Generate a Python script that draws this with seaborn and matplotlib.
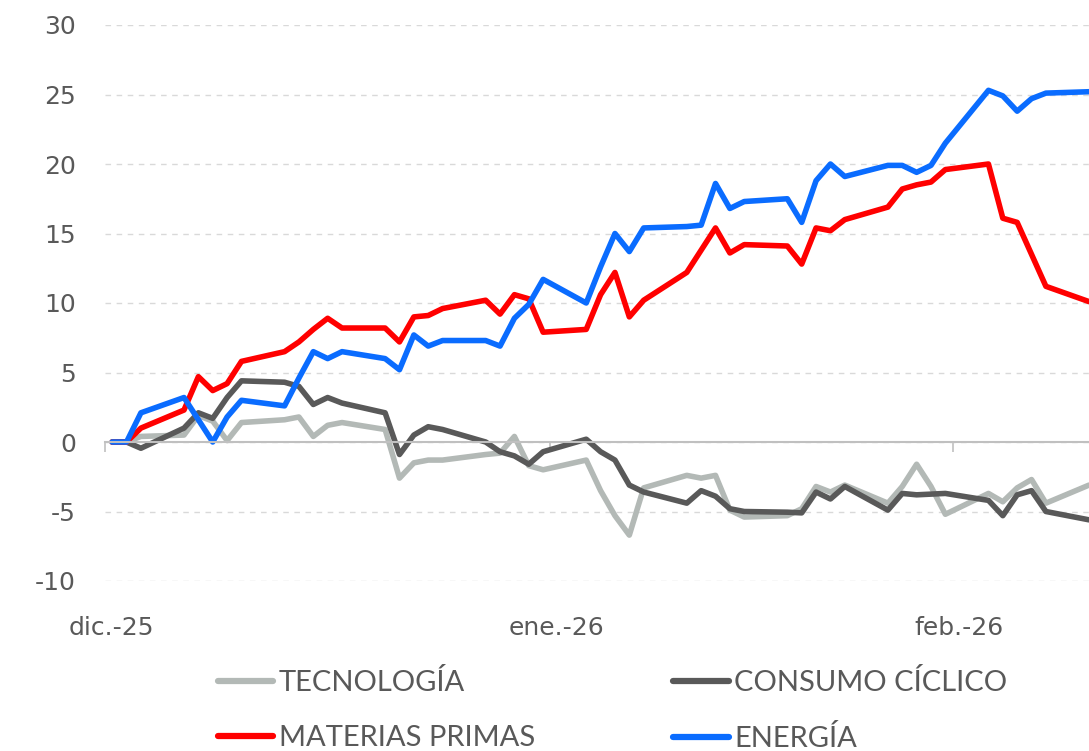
import matplotlib
matplotlib.use("Agg")
import matplotlib.pyplot as plt
import matplotlib.transforms as mtransforms
import pandas as pd
import seaborn as sns

# business days shown on the chart (Wed 3-dic-2025 .. Mon 9-feb-2026)
fechas = pd.bdate_range("2025-12-03", "2026-02-09")

tecnologia = [
    0.0, 0.0, 0.4,
    0.5, 1.9, 1.5, 0.1, 1.4,
    1.6, 1.8, 0.4, 1.2, 1.4,
    0.9, -2.6, -1.5, -1.3, -1.3,
    -0.9, -0.8, 0.4, -1.7, -2.0,
    -1.3, -3.5, -5.3, -6.7, -3.3,
    -2.4, -2.6, -2.4, -4.9, -5.4,
    -5.3, -4.8, -3.2, -3.6, -3.1,
    -4.4, -3.2, -1.6, -3.2, -5.2,
    -3.7, -4.3, -3.3, -2.7, -4.4,
    -3.1,
]
consumo_ciclico = [
    0.0, 0.0, -0.45,
    1.0, 2.1, 1.7, 3.2, 4.4,
    4.3, 4.0, 2.7, 3.2, 2.8,
    2.1, -0.9, 0.5, 1.1, 0.9,
    0.0, -0.7, -1.0, -1.6, -0.7,
    0.2, -0.7, -1.3, -3.1, -3.6,
    -4.4, -3.5, -3.9, -4.8, -5.0,
    -5.05, -5.1, -3.6, -4.1, -3.2,
    -4.9, -3.7, -3.8, -3.75, -3.7,
    -4.2, -5.3, -3.8, -3.5, -5.0,
    -5.6,
]
materias_primas = [
    0.0, 0.0, 1.0,
    2.3, 4.7, 3.7, 4.2, 5.8,
    6.5, 7.2, 8.1, 8.9, 8.2,
    8.2, 7.2, 9.0, 9.1, 9.6,
    10.2, 9.2, 10.6, 10.3, 7.9,
    8.1, 10.6, 12.2, 9.0, 10.2,
    12.2, 13.8, 15.4, 13.6, 14.2,
    14.1, 12.8, 15.4, 15.2, 16.0,
    16.9, 18.2, 18.5, 18.7, 19.6,
    20.0, 16.1, 15.8, 13.5, 11.2,
    10.1,
]
energia = [
    0.0, 0.0, 2.1,
    3.2, 1.6, 0.0, 1.8, 3.0,
    2.6, 4.6, 6.5, 6.0, 6.5,
    6.0, 5.2, 7.7, 6.9, 7.3,
    7.3, 6.9, 8.9, 9.9, 11.7,
    10.0, 12.6, 15.0, 13.7, 15.4,
    15.5, 15.6, 18.6, 16.8, 17.3,
    17.5, 15.8, 18.8, 20.0, 19.1,
    19.9, 19.9, 19.4, 19.9, 21.5,
    25.3, 24.9, 23.8, 24.7, 25.1,
    25.2,
]

SERIES = {
    "TECNOLOGÍA": tecnologia,
    "CONSUMO CÍCLICO": consumo_ciclico,
    "MATERIAS PRIMAS": materias_primas,
    "ENERGÍA": energia,
}
COLORES = {
    "TECNOLOGÍA": "#b3b9b6",
    "CONSUMO CÍCLICO": "#595959",
    "MATERIAS PRIMAS": "#ff0000",
    "ENERGÍA": "#0a6cff",
}

tick_fechas = pd.to_datetime(["2025-12-02 12:00", "2026-01-02 12:00", "2026-01-30 12:00"])
tick_labels = ["dic.-25", "ene.-26", "feb.-26"]

TEXT = "#595959"

df = pd.concat(
    [pd.DataFrame({"fecha": fechas, "valor": v, "sector": k}) for k, v in SERIES.items()],
    ignore_index=True,
)

sns.set_theme(style="white")
plt.rcParams["font.family"] = ["Lato", "DejaVu Sans"]
plt.rcParams["axes.unicode_minus"] = False

fig = plt.figure(figsize=(10.89, 7.51), dpi=100)
ax = fig.add_axes([105 / 1089, 1 - 581 / 751, 1 - 105 / 1089, (581 - 25) / 751])

sns.lineplot(data=df, x="fecha", y="valor", hue="sector", palette=COLORES,
             linewidth=4, ax=ax, legend=True)

ax.set_ylim(-10, 30)
ax.set_xlim(fechas[0] - pd.Timedelta(hours=12), fechas[-1])
ax.set_yticks(range(-10, 31, 5))
ax.yaxis.grid(True, color="#d9d9d9", linestyle=(0, (4, 4)), linewidth=1)
ax.xaxis.grid(False)

for s in ("top", "right", "left"):
    ax.spines[s].set_visible(False)
ax.spines["bottom"].set_position(("data", 0))
ax.spines["bottom"].set_color("#c0c0c0")
ax.spines["bottom"].set_linewidth(1.5)
ax.set_axisbelow(True)

ax.set_xticks(tick_fechas)
ax.set_xticklabels(tick_labels, family="DejaVu Sans")
ax.tick_params(axis="x", bottom=True, direction="out", length=7, width=1.2,
               color="#c0c0c0", pad=118, labelsize=18, labelcolor=TEXT)
ax.tick_params(axis="y", left=False, length=0, pad=21, labelsize=18, labelcolor=TEXT)
for lbl in ax.get_yticklabels():
    lbl.set_family("DejaVu Sans")
shift = mtransforms.ScaledTranslation(6 / 100, 0, fig.dpi_scale_trans)
for lbl in ax.get_xticklabels():
    lbl.set_transform(lbl.get_transform() + shift)
ax.set_xlabel("")
ax.set_ylabel("")

# legend under the chart, two columns
handles, labels = ax.get_legend_handles_labels()
ax.get_legend().remove()
for h in handles:
    h.set_linewidth(4.5)
orden = ["TECNOLOGÍA", "MATERIAS PRIMAS", "CONSUMO CÍCLICO", "ENERGÍA"]
hmap = dict(zip(labels, handles))
fig.legend([hmap[k] for k in orden], orden, loc="upper left",
           bbox_to_anchor=(218 / 1089, 1 - 669 / 751), ncol=2, frameon=False,
           fontsize=21, labelcolor=TEXT, handlelength=1.9, handletextpad=0.18,
           columnspacing=4.75, labelspacing=1.0, borderpad=0, borderaxespad=0)

fig.savefig("out.png", dpi=100)
